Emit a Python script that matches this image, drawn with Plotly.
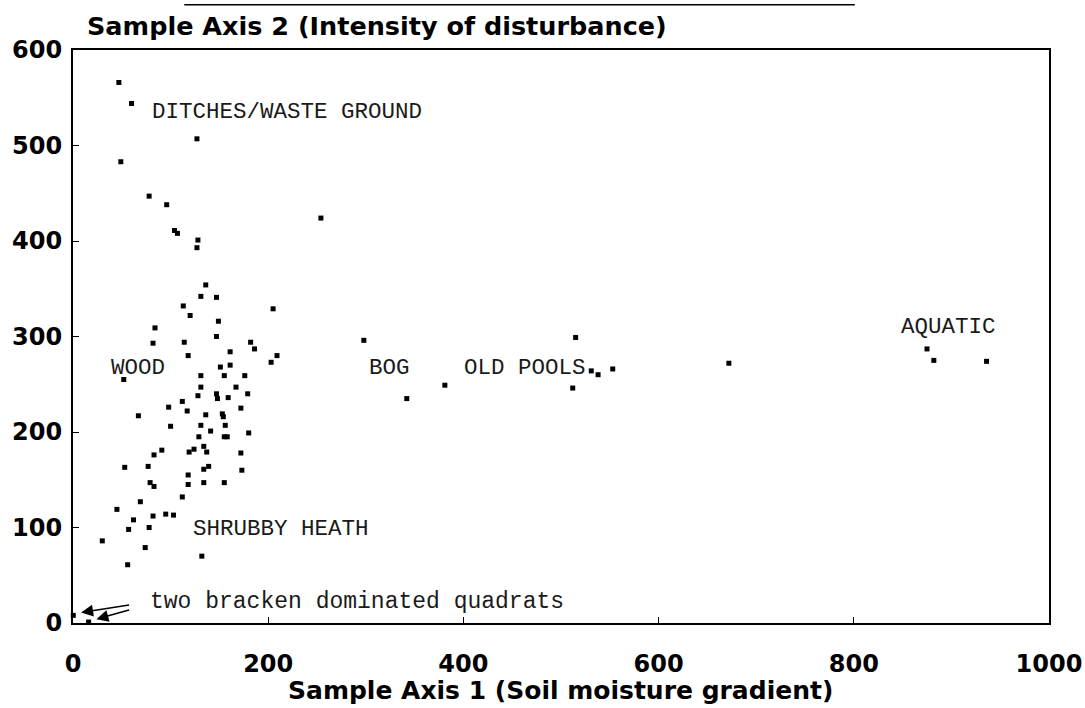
import plotly.graph_objects as go

# ---- data ----
ditches_x = [47, 60, 127, 49, 78, 96, 104, 107, 128, 127, 254]
ditches_y = [566, 544, 507, 483, 447, 438, 411, 408, 401, 393, 424]

wood_x = [136, 131, 147, 113, 120, 205, 149, 84, 82, 114, 147, 182, 186, 118,
          161, 209, 203, 151, 161, 52, 131, 155, 176, 131, 167, 128, 147, 148,
          159, 179, 112, 98, 117, 172, 67, 136, 153, 154, 100, 131, 141, 156,
          129, 155, 158, 180]
wood_y = [354, 342, 341, 332, 322, 329, 316, 309, 293, 294, 300, 294, 287, 280,
          284, 280, 273, 268, 270, 255, 259, 259, 259, 247, 247, 238, 240, 235,
          236, 240, 232, 226, 222, 225, 217, 218, 219, 216, 206, 207, 201, 207,
          195, 195, 195, 199]

heath_x = [83, 91, 119, 124, 134, 137, 172, 53, 77, 134, 139, 173, 118, 79, 83,
           118, 134, 155, 112, 69, 45, 62, 82, 95, 103, 57, 78, 30, 74, 132, 56]
heath_y = [176, 181, 179, 182, 185, 179, 178, 163, 164, 161, 164, 160, 155, 147,
           143, 145, 147, 147, 132, 127, 119, 108, 112, 114, 113, 98, 100, 86, 79,
           70, 61]

bog_pools_x = [298, 342, 381, 515, 512, 531, 538, 553, 672]
bog_pools_y = [296, 235, 249, 299, 246, 264, 260, 266, 272]

aquatic_x = [875, 882, 936]
aquatic_y = [287, 275, 274]

bracken_x = [0.3, 16]
bracken_y = [8, 1]

x_ticks = [0, 200, 400, 600, 800, 1000]
y_ticks = [0, 100, 200, 300, 400, 500, 600]

group_labels = ["DITCHES/WASTE GROUND", "WOOD", "BOG", "OLD POOLS", "AQUATIC",
                "SHRUBBY HEATH"]
label_x = [79, 37, 301, 399, 846, 121]
label_y = [535, 267, 267, 267, 310, 98]

bracken_note = "two bracken dominated quadrats"

# ---- figure ----
fig = go.Figure()
groups = [(ditches_x, ditches_y), (wood_x, wood_y), (heath_x, heath_y),
          (bog_pools_x, bog_pools_y), (aquatic_x, aquatic_y),
          (bracken_x, bracken_y)]
for gx, gy in groups:
    fig.add_trace(go.Scatter(
        x=gx, y=gy, mode="markers", showlegend=False, cliponaxis=False,
        marker=dict(symbol="square", size=5, color="black")))

mono = dict(family="Liberation Mono", size=22.5, color="#1a1a1a")
for t, lx, ly in zip(group_labels, label_x, label_y):
    fig.add_annotation(x=lx, y=ly, xref="x", yref="y", text=t, showarrow=False,
                       xanchor="left", yanchor="middle", font=mono)

fig.add_annotation(x=77, y=22, xref="x", yref="y", text=bracken_note,
                   showarrow=False, xanchor="left", yanchor="middle",
                   font=dict(family="Liberation Mono", size=23, color="#1a1a1a"))

# arrows pointing at the two bracken quadrats
tails = [(59, 19), (59, 14)]
for (tx, ty), px, py in zip(tails, bracken_x, bracken_y):
    fig.add_annotation(x=px + 8, y=py + 3, xref="x", yref="y", ax=tx, ay=ty,
                       axref="x", ayref="y", text="", showarrow=True,
                       arrowhead=2, arrowsize=1.6, arrowwidth=1.5,
                       arrowcolor="black")

title_font = dict(family="DejaVu Sans", size=25.5, color="black", weight="bold")
fig.add_annotation(x=0.012, y=1.042, xref="paper", yref="paper",
                   text="Sample Axis 2 (Intensity of disturbance)",
                   showarrow=False, xanchor="left", yanchor="middle",
                   font=title_font)
fig.add_annotation(x=0.499, y=-0.117, xref="paper", yref="paper",
                   text="Sample Axis 1 (Soil moisture gradient)",
                   showarrow=False, xanchor="center", yanchor="middle",
                   font=dict(family="DejaVu Sans", size=25, color="black",
                             weight="bold"))
fig.add_shape(type="line", xref="paper", yref="paper", x0=0.114, x1=0.801,
              y0=1.079, y1=1.079, line=dict(color="black", width=1.5))

tick_font = dict(family="DejaVu Sans", size=24, color="black", weight="bold")
fig.update_xaxes(range=[0, 1000], tickvals=x_ticks, ticks="inside", ticklen=6,
                 tickcolor="black", showline=True, linecolor="black",
                 linewidth=2, mirror=True, showgrid=False, zeroline=False,
                 tickfont=tick_font, ticklabelstandoff=18, automargin=False)
fig.update_yaxes(range=[0, 600], tickvals=y_ticks, ticks="inside", ticklen=6,
                 tickcolor="black", showline=True, linecolor="black",
                 linewidth=2, mirror=True, showgrid=False, zeroline=False,
                 tickfont=tick_font, ticklabelstandoff=4, automargin=False)
fig.update_layout(width=1085, height=708, plot_bgcolor="white",
                  paper_bgcolor="white",
                  margin=dict(l=73, r=36, t=50, b=85, autoexpand=False))
# remove the default 8px page margin so the figure fills the window exactly
fig.write_html("out.html",
               config={"displayModeBar": False},
               post_script="document.body.style.margin='0';"
                           "document.body.style.overflow='hidden';")
